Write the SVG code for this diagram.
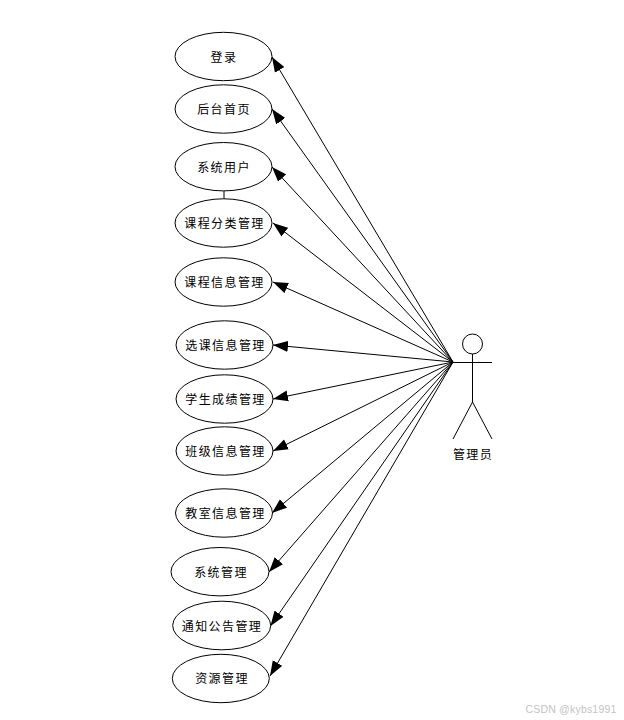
<svg xmlns="http://www.w3.org/2000/svg" width="624" height="720" viewBox="0 0 624 720">
<style>
.n ellipse{fill:#fff;stroke:#000;stroke-width:1}
text{font-family:"Noto Sans CJK SC","Liberation Sans",sans-serif;font-size:12px;fill:#000;text-anchor:middle;letter-spacing:1.4px}
.c line{stroke:#000;stroke-width:1;marker-end:url(#a)}
.s{stroke:#000;stroke-width:1;fill:#fff}
</style>
<defs><marker id="a" markerUnits="userSpaceOnUse" markerWidth="16" markerHeight="12" refX="15" refY="6" orient="auto"><path d="M0 0.500L15 6L0 11.500Z" fill="#000"/></marker></defs>
<rect width="624" height="720" fill="#fff"/>
<g id="connectors" class="c">
<line x1="453" y1="362" x2="272" y2="57"/>
<line x1="453" y1="362" x2="272" y2="109"/>
<line x1="453" y1="362" x2="272" y2="167"/>
<line x1="453" y1="362" x2="273" y2="223"/>
<line x1="453" y1="362" x2="273" y2="282"/>
<line x1="453" y1="362" x2="273" y2="345"/>
<line x1="453" y1="362" x2="273" y2="399"/>
<line x1="453" y1="362" x2="273" y2="451"/>
<line x1="453" y1="362" x2="272" y2="513"/>
<line x1="453" y1="362" x2="269" y2="572"/>
<line x1="453" y1="362" x2="270.500" y2="626"/>
<line x1="453" y1="362" x2="270" y2="676"/>
<path d="M224 191V199" stroke="#000" fill="none"/>
</g>
<g id="n1" class="n"><ellipse cx="223.500" cy="56.500" rx="48.500" ry="24.200"/><text x="224" y="62">登录</text></g>
<g id="n2" class="n"><ellipse cx="223.500" cy="109" rx="48.500" ry="24.200"/><text x="224" y="114">后台首页</text></g>
<g id="n3" class="n"><ellipse cx="223.500" cy="166.700" rx="48.500" ry="24.200"/><text x="224" y="172">系统用户</text></g>
<g id="n4" class="n"><ellipse cx="223.500" cy="223" rx="48.500" ry="24.200"/><text x="224.500" y="228">课程分类管理</text></g>
<g id="n5" class="n"><ellipse cx="223.500" cy="282" rx="48.500" ry="24.200"/><text x="224.500" y="287">课程信息管理</text></g>
<g id="n6" class="n"><ellipse cx="224.500" cy="345" rx="48.500" ry="24.200"/><text x="225.500" y="350">选课信息管理</text></g>
<g id="n7" class="n"><ellipse cx="224.500" cy="399" rx="48.500" ry="24.200"/><text x="225.500" y="404">学生成绩管理</text></g>
<g id="n8" class="n"><ellipse cx="224.500" cy="451" rx="48.500" ry="24.200"/><text x="225.500" y="456">班级信息管理</text></g>
<g id="n9" class="n"><ellipse cx="224" cy="513" rx="48.500" ry="24.200"/><text x="225.500" y="518">教室信息管理</text></g>
<g id="n10" class="n"><ellipse cx="220" cy="571.700" rx="49" ry="24.200"/><text x="221" y="577">系统管理</text></g>
<g id="n11" class="n"><ellipse cx="221.700" cy="625.500" rx="49" ry="24.300"/><text x="222" y="631">通知公告管理</text></g>
<g id="n12" class="n"><ellipse cx="220.800" cy="678.500" rx="48.500" ry="24.200"/><text x="222" y="683">资源管理</text></g>
<g id="actor">
<circle class="s" cx="472.500" cy="344" r="10"/>
<path class="s" fill="none" d="M472.500 354V402M453 362.500H492M472.500 402L453 439M472.500 402L492 439"/>
<text x="473" y="459">管理员</text>
</g>
<text x="571" y="713" style="font-family:'Liberation Sans',sans-serif;font-size:10.500px;fill:#c4c4c4;letter-spacing:.2px">CSDN @kybs1991</text>
</svg>
